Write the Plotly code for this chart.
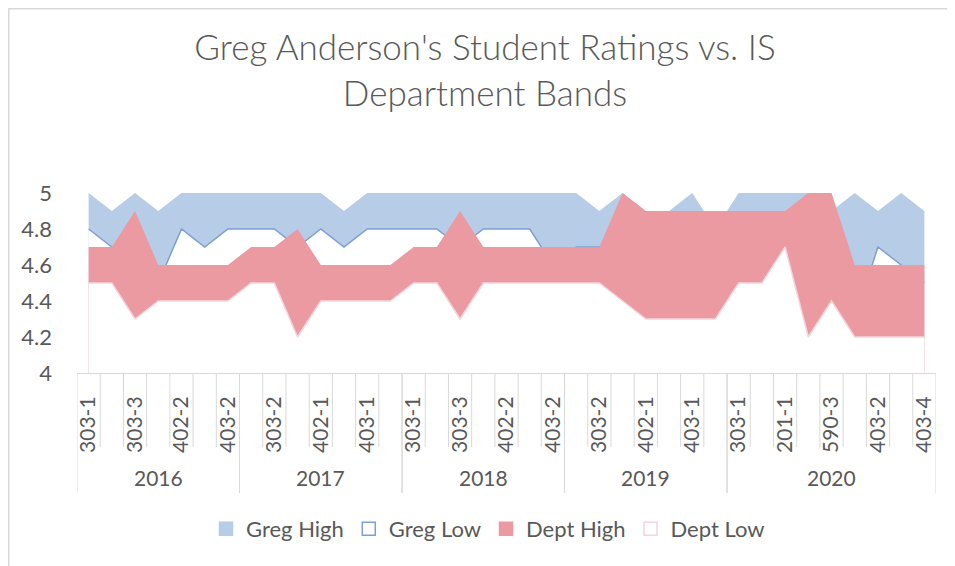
import plotly.graph_objects as go

# ---------------- data ----------------
years = ["2016", "2017", "2018", "2019", "2020"]
year_counts = [7, 7, 7, 7, 9]          # number of course sections per year
tick_labels = ["303-1", "303-3", "402-2", "403-2",
               "303-2", "402-1", "403-1",
               "303-1", "303-3", "402-2", "403-2",
               "303-2", "402-1", "403-1",
               "303-1", "201-1", "590-3", "403-2", "403-4"]   # every other section is labelled

greg_high = [5.0, 4.9, 5.0, 4.9, 5.0, 5.0, 5.0,
             5.0, 5.0, 5.0, 5.0, 4.9, 5.0, 5.0,
             5.0, 5.0, 5.0, 5.0, 5.0, 5.0, 5.0,
             5.0, 4.9, 5.0, 4.9, 4.9, 5.0, 4.8,
             5.0, 5.0, 5.0, 5.0, 4.9, 5.0, 4.9, 5.0, 4.9]
greg_low = [4.8, 4.7, 4.7, 4.5, 4.8, 4.7, 4.8,
            4.8, 4.8, 4.7, 4.8, 4.7, 4.8, 4.8,
            4.8, 4.8, 4.7, 4.8, 4.8, 4.8, 4.6,
            4.7, 4.7, 4.8, 4.8, 4.8, 4.8, 4.7,
            4.8, 4.8, 4.8, 4.8, 4.7, 4.3, 4.7, 4.6, 4.5]
dept_high = [4.7, 4.7, 4.9, 4.6, 4.6, 4.6, 4.6,
             4.7, 4.7, 4.8, 4.6, 4.6, 4.6, 4.6,
             4.7, 4.7, 4.9, 4.7, 4.7, 4.7, 4.7,
             4.7, 4.7, 5.0, 4.9, 4.9, 4.9, 4.9,
             4.9, 4.9, 4.9, 5.0, 5.0, 4.6, 4.6, 4.6, 4.6]
dept_low = [4.5, 4.5, 4.3, 4.4, 4.4, 4.4, 4.4,
            4.5, 4.5, 4.2, 4.4, 4.4, 4.4, 4.4,
            4.5, 4.5, 4.3, 4.5, 4.5, 4.5, 4.5,
            4.5, 4.5, 4.4, 4.3, 4.3, 4.3, 4.3,
            4.5, 4.5, 4.7, 4.2, 4.4, 4.2, 4.2, 4.2, 4.2]

# ---------------- styling ----------------
FONT = "Lato"
TXT = "#595959"
BLUE_FILL = "#b7cce6"
BLUE_LINE = "#7d9fd3"
PINK_FILL = "#eb9aa2"
PINK_LINE = "#f3d6db"
GRID = "#d9d9d9"

OFF = 8                      # page body margin of the html page
W, H = 955 - OFF, 566 - OFF  # figure size
# plot area in screen pixels
SX0, SX1, SY0, SY1 = 77, 936, 193, 373
L, T = SX0 - OFF, SY0 - OFF
R, B = W - (SX1 - OFF), H - (SY1 - OFF)
plot_w = SX1 - SX0
plot_h = SY1 - SY0


def py(screen_y):
    return (SY1 - screen_y) / plot_h


def px(screen_x):
    return (screen_x - SX0) / plot_w


n = len(greg_high)
x = list(range(n))

fig = go.Figure()

series = [
    ("Greg High", greg_high, BLUE_FILL, None),
    ("Greg Low", greg_low, "#ffffff", BLUE_LINE),
    ("Dept High", dept_high, PINK_FILL, None),
    ("Dept Low", dept_low, "#ffffff", PINK_LINE),
]

for name, vals, fill, line in series:
    fig.add_trace(go.Scatter(
        x=x, y=vals, name=name, fill="tozeroy", fillcolor=fill,
        mode="lines",
        line=dict(color=line if line else fill, width=1.5 if line else 0),
        showlegend=False, hoverinfo="skip"))

for name, vals, fill, line in series:
    fig.add_trace(go.Scatter(
        x=[None], y=[None], name=name, mode="markers",
        marker=dict(symbol="square", size=13, color=fill,
                    line=dict(color=line if line else fill, width=1.5)),
        showlegend=True))

# multi-level category axis: separators and year labels
shapes = []
annotations = []
start = 0
for yr, cnt in zip(years, year_counts):
    for k in range(cnt + 1):
        pos = start + k - 0.5
        is_year_edge = (k == 0 or k == cnt)
        shapes.append(dict(type="line", xref="x", yref="paper",
                           x0=pos, x1=pos, y0=0,
                           y1=py(493) if is_year_edge else py(447),
                           line=dict(color=GRID, width=1)))
    annotations.append(dict(x=start + (cnt - 1) / 2, xref="x",
                            y=py(477), yref="paper", text=yr,
                            showarrow=False, xanchor="center",
                            yanchor="middle",
                            font=dict(family=FONT, size=21, color=TXT)))
    start += cnt

# chart outer border
shapes.append(dict(type="rect", xref="paper", yref="paper",
                   x0=px(OFF + 0.75), x1=px(1000), y0=py(OFF + 0.75), y1=py(700),
                   line=dict(color="#d9d9d9", width=1.5),
                   fillcolor="rgba(0,0,0,0)", layer="below"))

fig.update_layout(
    width=W, height=H,
    margin=dict(l=L, r=R, t=T, b=B),
    paper_bgcolor="white", plot_bgcolor="white",
    title=dict(text="Greg Anderson's Student Ratings vs. IS<br>Department Bands",
               x=(485 - OFF) / W, xanchor="center", xref="container",
               y=1 - (60 - OFF) / H, yanchor="middle", yref="container",
               font=dict(family=FONT, size=35, color=TXT, weight=300)),
    xaxis=dict(range=[-0.5, n - 0.5], showgrid=False, zeroline=False,
               showline=True, linecolor=GRID, linewidth=1,
               tickmode="array", tickvals=x[::2], ticktext=tick_labels,
               tickangle=-90, ticks="", ticklabelstandoff=14,
               tickfont=dict(family=FONT, size=21, color=TXT)),
    yaxis=dict(range=[4, 5], showgrid=False, zeroline=False, showline=False,
               tickmode="array", tickvals=[4, 4.2, 4.4, 4.6, 4.8, 5],
               ticktext=["4", "4.2", "4.4", "4.6", "4.8", "5"],
               ticks="", ticklabelstandoff=24,
               tickfont=dict(family=FONT, size=22, color=TXT)),
    legend=dict(orientation="h", x=px(488), xanchor="center",
                y=py(529), yanchor="middle",
                font=dict(family=FONT, size=22, color=TXT),
                itemwidth=30, bgcolor="rgba(0,0,0,0)"),
    shapes=shapes, annotations=annotations,
    showlegend=True,
)

fig.write_html("out.html")
